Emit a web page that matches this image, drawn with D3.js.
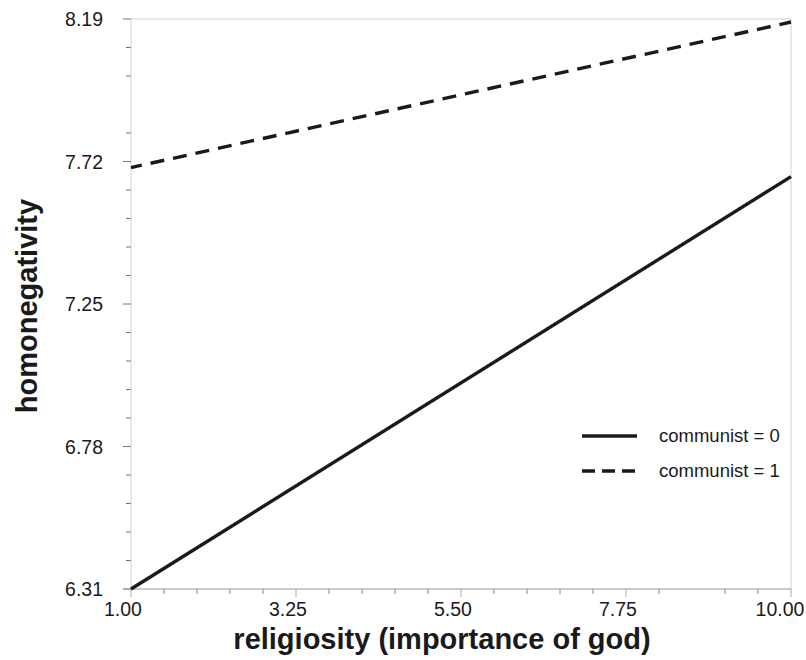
<!DOCTYPE html>
<html>
<head>
<meta charset="utf-8">
<script src="https://cdn.jsdelivr.net/npm/d3@7"></script>
<style>
  html, body { margin: 0; padding: 0; background: #fff; }
  svg { display: block; font-family: "Liberation Sans", Arial, sans-serif; }
</style>
</head>
<body>
<svg id="chart" width="806" height="660"></svg>
<script>
// Predicted homonegativity by religiosity, for communist = 0 and 1
const religiosity = [1.00, 10.00];
const communist0 = [6.31, 7.67];
const communist1 = [7.70, 8.18];
const seriesNames = ["communist = 0", "communist = 1"];

const xTicks = [1.00, 3.25, 5.50, 7.75, 10.00];
const yTicks = [6.31, 6.78, 7.25, 7.72, 8.19];
const xMinor = [1.45, 1.90, 2.35, 2.80, 3.70, 4.15, 4.60, 5.05, 5.95, 6.40, 6.85, 7.30, 8.20, 9.10, 9.55];
const yMinor = [6.404, 6.498, 6.592, 6.686, 6.874, 6.968, 7.062, 7.156, 7.344, 7.438, 7.532, 7.626, 7.814, 8.002, 8.096];

const svg = d3.select("#chart");
const margin = { left: 131, right: 15, top: 19, bottom: 71 };
const W = 806, H = 660;

const x = d3.scaleLinear().domain([1, 10]).range([margin.left, W - margin.right]);
const y = d3.scaleLinear().domain([6.31, 8.19]).range([H - margin.bottom, margin.top]);

// frame
svg.append("line").attr("x1", x(1)).attr("x2", x(10)).attr("y1", y(8.19)).attr("y2", y(8.19))
  .attr("stroke", "#cfcfcf").attr("stroke-width", 1);
svg.append("line").attr("x1", x(10)).attr("x2", x(10)).attr("y1", y(8.19)).attr("y2", y(6.31))
  .attr("stroke", "#cfcfcf").attr("stroke-width", 1);

// y axis
const yAxis = svg.append("g").attr("transform", `translate(${x(1)},0)`);
yAxis.append("line").attr("y1", y(6.31)).attr("y2", y(8.19)).attr("stroke", "#d4d4d4");
yAxis.selectAll(".ymaj").data(yTicks).join("line")
  .attr("x1", -8).attr("x2", 0).attr("y1", d => y(d)).attr("y2", d => y(d))
  .attr("stroke", "#777").attr("stroke-width", 1);
yAxis.selectAll(".ymin").data(yMinor).join("line")
  .attr("x1", -5).attr("x2", 0).attr("y1", d => y(d)).attr("y2", d => y(d))
  .attr("stroke", "#777").attr("stroke-width", 1);
yAxis.selectAll("text").data(yTicks).join("text")
  .attr("x", -28).attr("y", d => y(d)).attr("dy", "0.36em")
  .attr("text-anchor", "end").attr("font-size", 19.5).attr("fill", "#1a1a1a")
  .text(d => d.toFixed(2));

// x axis
const xAxis = svg.append("g").attr("transform", `translate(0,${y(6.31)})`);
xAxis.append("line").attr("x1", x(1) - 8).attr("x2", x(10)).attr("stroke", "#999");
xAxis.selectAll(".xmaj").data(xTicks).join("line")
  .attr("x1", d => x(d)).attr("x2", d => x(d)).attr("y1", 0).attr("y2", 8)
  .attr("stroke", "#aaa").attr("stroke-width", 1);
xAxis.selectAll(".xmin").data(xMinor).join("line")
  .attr("x1", d => x(d)).attr("x2", d => x(d)).attr("y1", 0).attr("y2", 5)
  .attr("stroke", "#888").attr("stroke-width", 1);
xAxis.selectAll("text").data(xTicks).join("text")
  .attr("x", (d, i) => x(d) - (i === xTicks.length - 1 ? 11 : 8)).attr("y", 26.5)
  .attr("text-anchor", "middle").attr("font-size", 19.5).attr("fill", "#1a1a1a")
  .text(d => d.toFixed(2));

// axis titles
svg.append("text").attr("x", 442).attr("y", 649).attr("text-anchor", "middle")
  .attr("font-size", 29).attr("font-weight", "bold").attr("fill", "#1a1a1a")
  .text("religiosity (importance of god)");
svg.append("text").attr("transform", `translate(37,306) rotate(-90)`)
  .attr("text-anchor", "middle").attr("font-size", 29).attr("font-weight", "bold").attr("fill", "#1a1a1a")
  .text("homonegativity");

// lines
const line = d3.line().x(d => x(d[0])).y(d => y(d[1]));
const series = [
  { name: seriesNames[0], values: communist0, dash: null, legendDash: null },
  { name: seriesNames[1], values: communist1, dash: "14,9", legendDash: "13,7" }
];
svg.selectAll(".series").data(series).join("path")
  .attr("d", s => line(religiosity.map((r, i) => [r, s.values[i]])))
  .attr("fill", "none").attr("stroke", "#1a1a1a").attr("stroke-width", 3.4)
  .attr("stroke-dasharray", s => s.dash).attr("stroke-dashoffset", 3);

// legend
const legend = svg.append("g");
series.forEach((s, i) => {
  const ly = 436 + i * 35;
  legend.append("line").attr("x1", 582).attr("x2", 637).attr("y1", ly).attr("y2", ly)
    .attr("stroke", "#1a1a1a").attr("stroke-width", 3.4).attr("stroke-dasharray", s.legendDash);
  legend.append("text").attr("x", 659).attr("y", ly).attr("dy", "0.35em")
    .attr("font-size", 18.5).attr("fill", "#1a1a1a").text(s.name);
});
</script>
</body>
</html>
